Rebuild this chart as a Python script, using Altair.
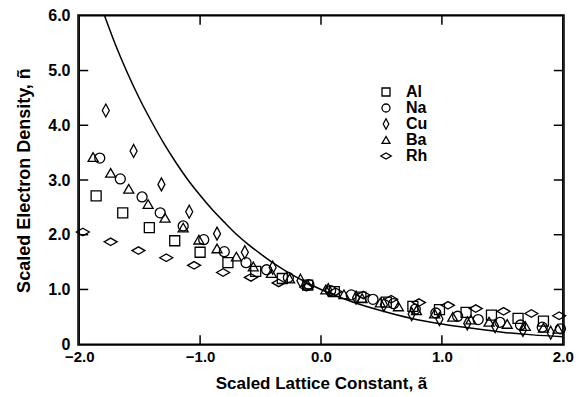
import altair as alt
import pandas as pd

series = ["Al", "Na", "Cu", "Ba", "Rh"]

al_x = [-1.86, -1.64, -1.42, -1.21, -1.00, -0.77, -0.54, -0.32, -0.11, 0.11, 0.33, 0.54, 0.76, 0.98, 1.20, 1.41, 1.63, 1.84]
al_y = [2.71, 2.40, 2.13, 1.89, 1.68, 1.49, 1.33, 1.20, 1.08, 0.96, 0.86, 0.77, 0.69, 0.63, 0.58, 0.53, 0.47, 0.42]

na_x = [-1.83, -1.66, -1.48, -1.33, -1.14, -0.97, -0.80, -0.62, -0.45, -0.27, -0.10, 0.08, 0.25, 0.43, 0.60, 0.78, 0.95, 1.13, 1.30, 1.48, 1.65, 1.83, 1.98]
na_y = [3.40, 3.02, 2.69, 2.40, 2.16, 1.91, 1.69, 1.49, 1.36, 1.22, 1.09, 0.98, 0.90, 0.82, 0.74, 0.64, 0.57, 0.51, 0.45, 0.40, 0.35, 0.31, 0.28]

cu_x = [-1.78, -1.55, -1.32, -1.09, -0.86, -0.63, -0.40, -0.17, 0.06, 0.29, 0.52, 0.75, 0.98, 1.21, 1.44, 1.67, 1.90]
cu_y = [4.27, 3.53, 2.92, 2.42, 2.02, 1.68, 1.40, 1.16, 0.99, 0.85, 0.72, 0.55, 0.46, 0.38, 0.33, 0.26, 0.21]

ba_x = [-1.885, -1.74, -1.59, -1.43, -1.29, -1.14, -1.01, -0.86, -0.70, -0.56, -0.41, -0.26, -0.11, 0.04, 0.19, 0.34, 0.49, 0.64, 0.79, 0.94, 1.09, 1.24, 1.39, 1.54, 1.69, 1.84, 1.96]
ba_y = [3.42, 3.13, 2.84, 2.56, 2.31, 2.13, 1.91, 1.75, 1.60, 1.42, 1.30, 1.20, 1.09, 1.00, 0.91, 0.84, 0.76, 0.69, 0.62, 0.56, 0.50, 0.45, 0.41, 0.37, 0.33, 0.30, 0.28]

rh_x = [-1.97, -1.74, -1.51, -1.28, -1.05, -0.81, -0.58, -0.35, -0.12, 0.12, 0.35, 0.58, 0.81, 1.05, 1.28, 1.51, 1.74, 1.97]
rh_y = [2.05, 1.87, 1.71, 1.58, 1.44, 1.31, 1.22, 1.12, 1.04, 0.96, 0.90, 0.82, 0.76, 0.71, 0.65, 0.60, 0.56, 0.52]

curve_x = [-1.79, -1.7, -1.6, -1.5, -1.4, -1.3, -1.2, -1.1, -1.0, -0.9, -0.8, -0.7, -0.6, -0.5, -0.4, -0.3, -0.2, -0.1, 0.0, 0.25, 0.5, 0.75, 1.0, 1.25, 1.5, 1.75, 2.0]
curve_y = [6.0, 5.47, 4.95, 4.48, 4.06, 3.67, 3.32, 3.0, 2.72, 2.46, 2.23, 2.01, 1.82, 1.65, 1.49, 1.35, 1.22, 1.105, 1.0, 0.78, 0.61, 0.47, 0.37, 0.29, 0.22, 0.17, 0.135]

x_range = [-2.0, 2.0]
y_range = [0.0, 6.0]
x_view = [-2.01, 2.01]
y_view = [-0.015, 6.015]
x_ticks = [-2, -1, 0, 1, 2]
y_ticks = [0, 1, 2, 3, 4, 5, 6]
inner_x_ticks = [-1.0, 0.0, 1.0]
inner_y_ticks = [1.0, 2.0, 3.0, 4.0, 5.0]

FONT = "Liberation Sans"
W, H = 486, 330
TICK_PX = 9
tx = TICK_PX * (x_view[1] - x_view[0]) / W
ty = TICK_PX * (y_view[1] - y_view[0]) / H

rows = []
for name, xs_, ys_ in zip(series, [al_x, na_x, cu_x, ba_x, rh_x], [al_y, na_y, cu_y, ba_y, rh_y]):
    for a, n in zip(xs_, ys_):
        rows.append({"kind": "pt", "metal": name, "g": "", "a": float(a), "n": float(n), "k": 0.0})
for i, (a, n) in enumerate(zip(curve_x, curve_y)):
    rows.append({"kind": "curve", "metal": "", "g": "c", "a": float(a), "n": float(n), "k": float(i)})


def add_segment(gid, a0, n0, a1, n1):
    # three collinear points per segment (start, middle, end)
    for j, t in enumerate([0.0, 0.5, 1.0]):
        rows.append({"kind": "guide", "metal": "", "g": gid,
                     "a": a0 + (a1 - a0) * t, "n": n0 + (n1 - n0) * t, "k": float(j)})


x0, x1 = x_range
y0, y1 = y_range
add_segment("bottom", x0, y0, x1, y0)
add_segment("top", x0, y1, x1, y1)
add_segment("left", x0, y0, x0, y1)
add_segment("right", x1, y0, x1, y1)
for a in inner_x_ticks:
    add_segment(f"tb{a}", a, y0, a, y0 + ty)
    add_segment(f"tt{a}", a, y1, a, y1 - ty)
for n in inner_y_ticks:
    add_segment(f"tl{n}", x0, n, x0 + tx, n)
    add_segment(f"tr{n}", x1, n, x1 - tx, n)
df = pd.DataFrame(rows)

thin_diamond = "M0,-1.3L0.7,0L0,1.3L-0.7,0Z"
wide_diamond = "M-1.3,0L0,-0.75L1.3,0L0,0.75Z"

xscale = alt.Scale(domain=x_view, nice=False, zero=False)
yscale = alt.Scale(domain=y_view, nice=False, zero=False)

base = alt.Chart(df)

curve = base.transform_filter(alt.datum.kind == "curve").mark_line(
    color="black", strokeWidth=1.5, clip=True, interpolate="monotone").encode(
    x=alt.X("a:Q", scale=xscale, axis=alt.Axis(
        orient="bottom", values=x_ticks, format=".1f", ticks=False, domain=False, grid=False,
        labelFlush=False, labelPadding=4, labelFont=FONT, labelFontSize=15, labelFontWeight="bold",
        labelColor="black", title="Scaled Lattice Constant, ã", titleFont=FONT, titleFontSize=17,
        titleFontWeight="bold", titleColor="black", titlePadding=11)),
    y=alt.Y("n:Q", scale=yscale, axis=alt.Axis(
        orient="left", values=y_ticks, labelExpr="datum.value == 0 ? '0' : format(datum.value, '.1f')",
        ticks=False, domain=False, grid=False, labelFlush=False, labelPadding=8, labelFont=FONT,
        labelFontSize=16, labelFontWeight="bold", labelColor="black",
        title="Scaled Electron Density, ñ", titleFont=FONT, titleFontSize=18,
        titleFontWeight="bold", titleColor="black", titlePadding=14)),
    order="k:Q",
)

guides = base.transform_filter(alt.datum.kind == "guide").mark_line(
    color="black", strokeWidth=1.5, clip=True, interpolate="basis").encode(
    x=alt.X("a:Q", scale=xscale),
    y=alt.Y("n:Q", scale=yscale),
    detail="g:N",
    order="k:Q",
)

points = base.transform_filter(alt.datum.kind == "pt").mark_point(
    filled=False, color="black", strokeWidth=1.3, size=100, opacity=1).encode(
    x=alt.X("a:Q", scale=xscale),
    y=alt.Y("n:Q", scale=yscale),
    shape=alt.Shape("metal:N", scale=alt.Scale(domain=series,
        range=["square", "circle", thin_diamond, "triangle-up", wide_diamond]),
        legend=alt.Legend(title=None, orient="none", legendX=300, legendY=69,
            labelFont=FONT, labelFontSize=16, labelFontWeight="bold", labelColor="black",
            symbolSize=64, symbolStrokeColor="black", symbolStrokeWidth=1.3,
            symbolOpacity=1, labelOffset=12, rowPadding=0)),
)

chart = alt.layer(curve, guides, points).properties(
    width=W, height=H,
    autosize=alt.AutoSizeParams(type="none"),
    padding={"left": 78, "top": 15, "right": 16, "bottom": 52},
    background="white",
).configure_view(stroke="black", strokeWidth=1.5)

chart.save("out.html", embed_options={"renderer": "svg", "actions": False})
